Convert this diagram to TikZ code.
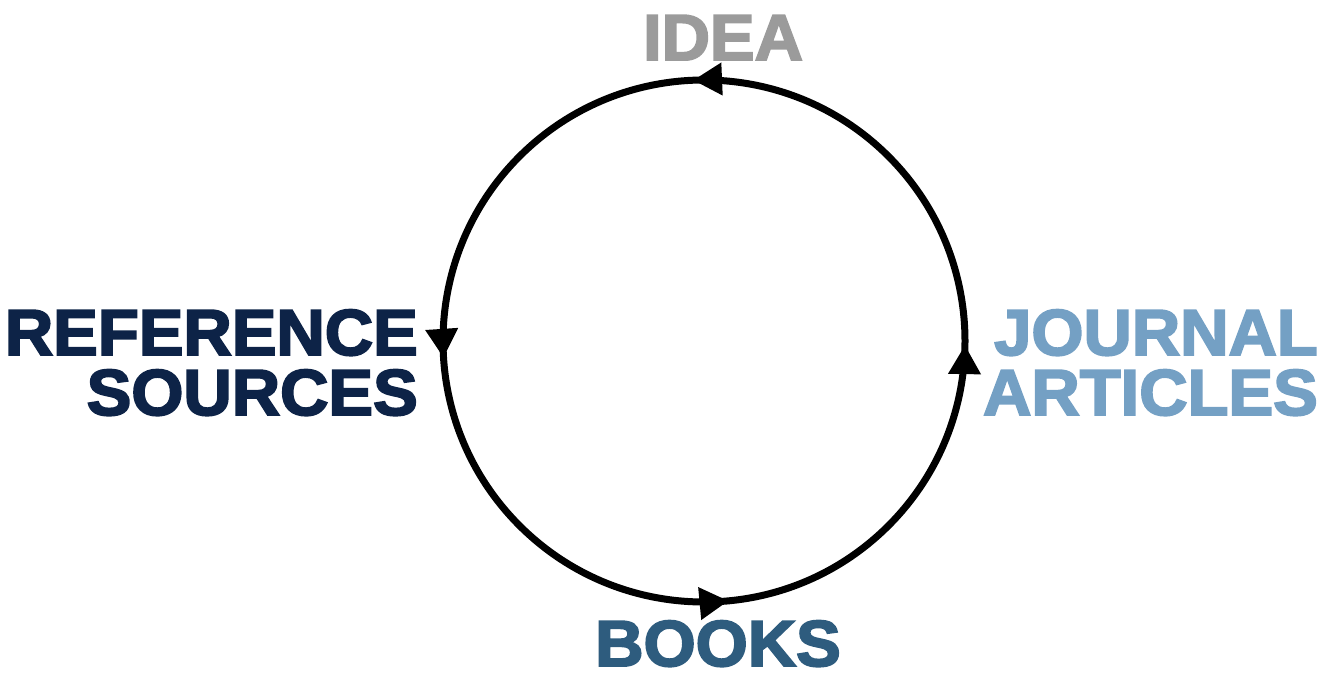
\documentclass[tikz,border=0pt]{standalone}
\usepackage{fontspec}
\usetikzlibrary{decorations.markings,arrows.meta}
\newfontfamily\heavy[FakeBold=3,FakeStretch=1.03]{Liberation Sans}
\definecolor{ideagray}{HTML}{9B9B9B}
\definecolor{refnavy}{HTML}{0D2347}
\definecolor{bookblue}{HTML}{2E5C7E}
\definecolor{jourblue}{HTML}{74A0C4}
\tikzset{
  lbl/.style={inner sep=0pt, font=\heavy\bfseries\fontsize{65pt}{60pt}\selectfont},
  cyc/.style={line width=7pt, draw=black},
  cyctip/.tip={Triangle[length=29pt,width=31pt]}
}
\begin{document}
\begin{tikzpicture}[x=1pt,y=1pt]
\useasboundingbox (0,0) rectangle (1331,673);
\coordinate (c) at (704,332);
\node[lbl, text=ideagray, anchor=base] (idea) at (723,613) {IDEA};
\node[lbl, text=refnavy, anchor=base east, align=right] (ref) at (418,258) {REFERENCE\\SOURCES};
\node[lbl, text=jourblue, anchor=base east, align=right] (jour) at (1318,258) {JOURNAL\\ARTICLES};
\node[lbl, text=bookblue, anchor=base] (books) at (718,7) {BOOKS};
\draw[cyc, postaction={decorate, decoration={markings,
      mark=at position 0.1317 with {\arrow{cyctip}},
      mark=at position 0.3853 with {\arrow{cyctip}},
      mark=at position 0.6400 with {\arrow{cyctip}},
      mark=at position 0.8725 with {\arrow{cyctip}}}}]
  (c) ++(45:261) arc[start angle=45, end angle=405, radius=261];
\end{tikzpicture}
\end{document}
